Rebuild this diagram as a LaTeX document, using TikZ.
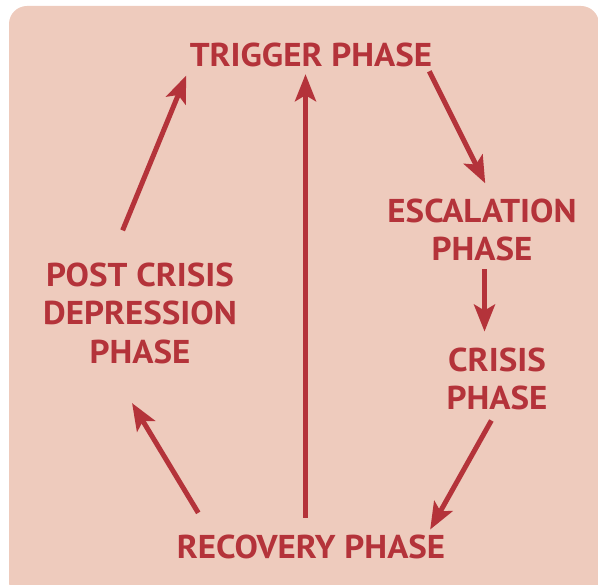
\documentclass[tikz,border=0pt]{standalone}
\usepackage{fontspec}
\setmainfont[FakeStretch=1.06]{PT Sans}
\usetikzlibrary{arrows.meta}
\definecolor{phasebg}{HTML}{EECBBD}
\definecolor{phasered}{HTML}{B4333A}
\tikzset{
	phase/.style={inner sep=0pt, align=center, text=phasered, font=\bfseries\fontsize{33}{38.5}\selectfont},
	cyclearrow/.style={line width=5pt, draw=phasered, -{Stealth[length=27pt, width=21pt, inset=6pt]}}
}

\begin{document}
\begin{tikzpicture}[x=1pt, y=-1pt]
		%%%%% START %%%%%
		
		\clip (0, 0) rectangle (598, 585);
		\useasboundingbox (0, 0) rectangle (598, 585);
		\fill[phasebg, rounded corners=18pt] (9, 6) rectangle (599, 600);
		
		\node[phase] (trig) at (311, 55) {TRIGGER PHASE};
		\node[phase] (esc) at (482, 230) {ESCALATION\\PHASE};
		\node[phase] (crisis) at (497, 379) {CRISIS\\PHASE};
		\node[phase] (rec) at (311, 547) {RECOVERY PHASE};
		\node[phase] (post) at (140, 313) {POST CRISIS\\DEPRESSION\\PHASE};
		
		\draw[cyclearrow, shorten <=4.6pt, shorten >=17pt] (trig.354) -- (esc.71);
		\draw[cyclearrow, shorten <=8pt, shorten >=16pt] ([xshift=2.5pt]esc.south) -- ([xshift=2.5pt]esc.south |- crisis.north);
		\draw[cyclearrow, shorten <=11.5pt, shorten >=6pt] (crisis.south) -- (rec.6);
		\draw[cyclearrow, shorten <=25.6pt, shorten >=46pt] (rec.173) -- (post.238);
		\draw[cyclearrow, shorten <=34.5pt, shorten >=9pt] (post.121) -- (trig.south west);
		\draw[cyclearrow, shorten <=17pt, shorten >=7pt] ([xshift=-5.5pt]rec.north) -- ([xshift=-5.5pt]rec.north |- trig.south);
		
		%%%%% END %%%%%
\end{tikzpicture}
\end{document}
